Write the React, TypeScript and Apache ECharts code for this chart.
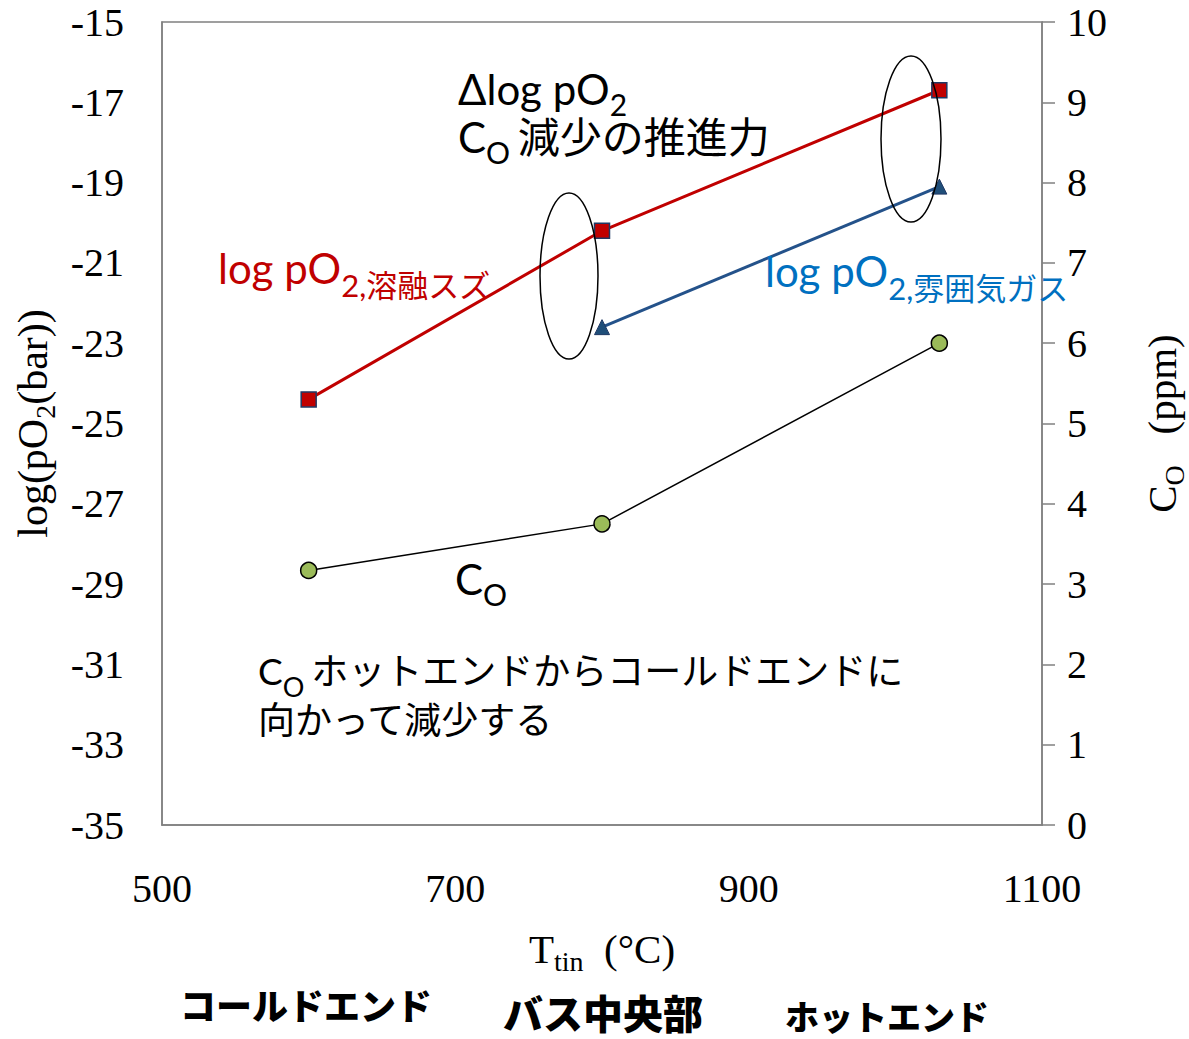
import React, { useEffect, useRef } from "react";
import * as echarts from "echarts";

// ---- data ----
const tinTemps = [600, 800, 1030];
const tinLogPO2 = [-24.4, -20.2, -16.7];
const gasTemps = [800, 1030];
const gasLogPO2 = [-22.6, -19.1];
const coTemps = [600, 800, 1030];
const coPpm = [3.17, 3.75, 6.0];
const leftTickLabels = [-35, -33, -31, -29, -27, -25, -23, -21, -19, -17, -15];
const xTickLabels = [500, 700, 900, 1100];
const zoneLabels = ["コールドエンド", "バス中央部", "ホットエンド"];

const SERIF = "'Liberation Serif', 'Times New Roman', serif";
const SANS = "Lato, 'Noto Sans CJK JP', sans-serif";
const CJK = "'Noto Sans CJK JP', sans-serif";

// main/sub rich styles: sub text centre sits roughly `offset` px below the main text centre,
// while every token box stays inside the main line height.
function rich(main: number, mainLH: number, sub: number, offset: number, color: string, family: string) {
  const pad = Math.max(0, mainLH / 2 + offset - sub / 2);
  const subLH = Math.max(4, mainLH - pad);
  return {
    m: { fontFamily: family, fontSize: main, lineHeight: mainLH, color, fill: color, verticalAlign: "top" },
    s: {
      fontFamily: family,
      fontSize: sub,
      lineHeight: subLH,
      color,
      fill: color,
      verticalAlign: "top",
      padding: [pad, 0, 0, 0],
    },
  };
}

function label(x: number, y: number, text: string, r: any) {
  return {
    type: "text",
    x,
    y,
    z: 100,
    style: { text, rich: r, align: "left", verticalAlign: "top" },
  };
}

export default function App() {
  const ref = useRef<HTMLDivElement>(null);
  useEffect(() => {
    document.body.style.margin = "0";
    document.documentElement.style.overflow = "hidden";
    const chart = echarts.init(ref.current!, null, { renderer: "svg", width: 1189, height: 1039 });
    const pair = (xs: number[], ys: number[]) => xs.map((x, i) => [x, ys[i]]);
    const black = rich(42, 48, 30, 12, "#000", SANS);
    const red = rich(42, 48, 31, 14, "#C00000", SANS);
    const blue = rich(42, 48, 31, 14, "#0070C0", SANS);
    const note = rich(37, 49, 27, 10, "#000", SANS);
    const serifRich = rich(41, 46, 28, 10, "#000", SERIF);
    const leftRich = rich(42, 46, 28, 10, "#000", SERIF);

    chart.setOption({
      animation: false,
      backgroundColor: "#fff",
      grid: {
        left: 162,
        right: 147,
        top: 22,
        bottom: 214,
        outerBoundsMode: "none",
        containLabel: false,
        show: true,
        borderColor: "#808080",
        borderWidth: 1.5,
      },
      xAxis: {
        type: "value",
        min: 500,
        max: 1100,
        interval: 100,
        name: "{m|T}{s|tin}{m|  (°C)}",
        nameLocation: "middle",
        nameGap: 103,
        nameTextStyle: { rich: serifRich },
        axisLine: { show: true, lineStyle: { color: "#808080", width: 1.5 } },
        axisTick: { show: false },
        splitLine: { show: false },
        axisLabel: {
          margin: 43,
          fontFamily: SERIF,
          fontSize: 40,
          color: "#000",
          formatter: (v: number) => (xTickLabels.includes(v) ? String(v) : ""),
        },
      },
      yAxis: [
        {
          type: "value",
          min: -35,
          max: -15,
          interval: 1,
          position: "left",
          name: "{m|log(pO}{s|2}{m|(bar))}",
          nameLocation: "middle",
          nameRotate: 90,
          nameGap: 104,
          nameTextStyle: { rich: leftRich },
          axisLine: { show: true, lineStyle: { color: "#808080", width: 1.5 } },
          axisTick: { show: false },
          splitLine: { show: false },
          axisLabel: {
            margin: 38,
            fontFamily: SERIF,
            fontSize: 40,
            color: "#000",
            formatter: (v: number) => (leftTickLabels.includes(v) ? String(v) : ""),
          },
        },
        {
          type: "value",
          min: 0,
          max: 10,
          interval: 1,
          position: "right",
          name: "{m|C}{s|O}{m|   (ppm)}",
          nameLocation: "middle",
          nameRotate: 90,
          nameGap: 99,
          nameTextStyle: { rich: serifRich },
          axisLine: { show: true, lineStyle: { color: "#808080", width: 1.5 } },
          axisTick: { show: true, inside: false, length: 13, lineStyle: { color: "#808080", width: 1.5 } },
          splitLine: { show: false },
          axisLabel: { margin: 25, fontFamily: SERIF, fontSize: 40, color: "#000" },
        },
      ],
      series: [
        {
          type: "line",
          name: "tin",
          yAxisIndex: 0,
          data: pair(tinTemps, tinLogPO2),
          symbol: "rect",
          symbolSize: 15,
          lineStyle: { color: "#C00000", width: 3 },
          itemStyle: { color: "#C00000", borderColor: "#1F3864", borderWidth: 1.5 },
          z: 3,
        },
        {
          type: "line",
          name: "gas",
          yAxisIndex: 0,
          data: pair(gasTemps, gasLogPO2),
          symbol: "triangle",
          symbolSize: 15,
          lineStyle: { color: "#24528A", width: 3 },
          itemStyle: { color: "#1F4E79", borderColor: "#1F3864", borderWidth: 1 },
          z: 3,
        },
        {
          type: "line",
          name: "co",
          yAxisIndex: 1,
          data: pair(coTemps, coPpm),
          symbol: "circle",
          symbolSize: 16,
          lineStyle: { color: "#000", width: 1.5 },
          itemStyle: { color: "#9BBB59", borderColor: "#000", borderWidth: 1.5 },
          z: 3,
        },
      ],
      graphic: [
        { type: "ellipse", shape: { cx: 569, cy: 276, rx: 29, ry: 83 }, style: { fill: "none", stroke: "#000", lineWidth: 1.5 }, z: 50 },
        { type: "ellipse", shape: { cx: 911, cy: 139, rx: 30, ry: 83 }, style: { fill: "none", stroke: "#000", lineWidth: 1.5 }, z: 50 },
        label(458, 68, "{m|Δlog pO}{s|2}\n{m|C}{s|O }{m|減少の推進力}", black),
        label(218, 247, "{m|log pO}{s|2,溶融スズ}", red),
        label(765, 250, "{m|log pO}{s|2,雰囲気ガス}", blue),
        label(455, 558, "{m|C}{s|O}", black),
        label(258, 652, "{m|C}{s|O }{m|ホットエンドからコールドエンドに}\n{m|向かって減少する}", note),
        {
          type: "text", x: 180, y: 985, z: 100,
          style: { text: zoneLabels[0], fontFamily: CJK, fontWeight: 900, fontSize: 36, lineHeight: 38, fill: "#000" },
        },
        {
          type: "text", x: 503, y: 991, z: 100,
          style: { text: zoneLabels[1], fontFamily: CJK, fontWeight: 900, fontSize: 40, lineHeight: 41, fill: "#000" },
        },
        {
          type: "text", x: 785, y: 997, z: 100,
          style: { text: zoneLabels[2], fontFamily: CJK, fontWeight: 900, fontSize: 34, lineHeight: 36, fill: "#000" },
        },
      ],
    });
    return () => chart.dispose();
  }, []);
  return <div ref={ref} style={{ width: 1189, height: 1039 }} />;
}
